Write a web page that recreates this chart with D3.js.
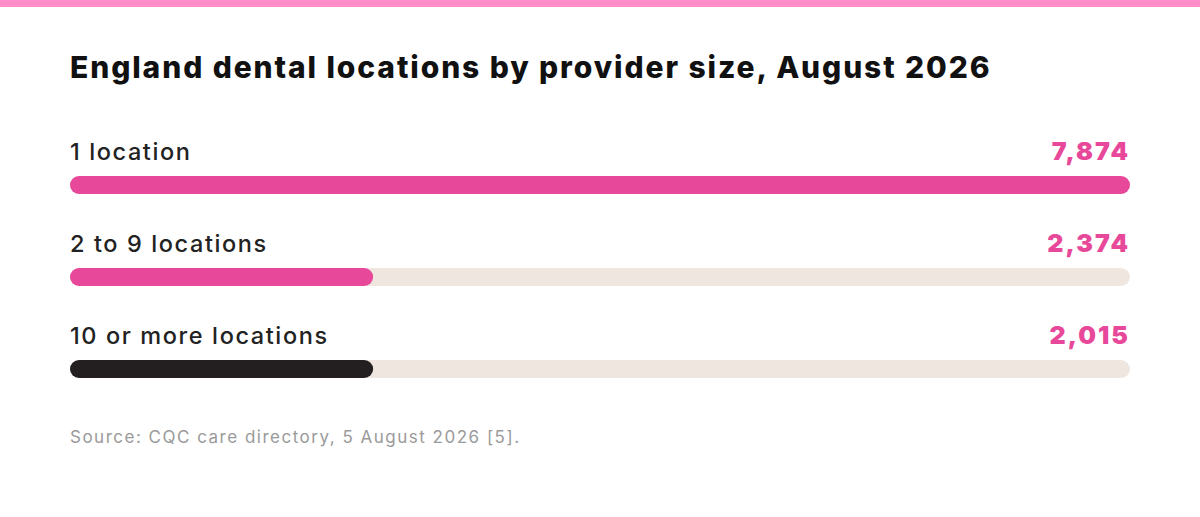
<!DOCTYPE html>
<meta charset="utf-8">
<script src="https://d3js.org/d3.v7.min.js"></script>
<style>
body { margin:0; background:#fff; font-family: Inter, "Noto Sans", sans-serif; }
</style>
<div id="chart"></div>
<script>
// values
const categories = ['1 location', '2 to 9 locations', '10 or more locations'];
const counts = [7874, 2374, 2015];
// filled share of each track, as drawn in the reference
const fillShare = [1, 0.286, 0.286];
const barColors = ['#e8489a', '#e8489a', '#231f20'];

const width = 1200, height = 517;
const left = 70, right = 1130;

const svg = d3.select('#chart').append('svg')
	.attr('width', width).attr('height', height);

svg.append('rect').attr('width', width).attr('height', 7).attr('fill', '#ff8dc7');

svg.append('text')
	.attr('x', left).attr('y', 78)
	.attr('font-size', 30).attr('font-weight', 800).attr('fill', '#111')
	.attr('letter-spacing', 1.9)
	.text('England dental locations by provider size, August 2026');

const x = d3.scaleLinear().domain([0, 1]).range([left, right]);
const y = d3.scaleBand().domain(categories).range([134, 410]);
const barH = 18;

const row = svg.selectAll('g.row').data(categories).join('g')
	.attr('transform', d => `translate(0,${y(d)})`);

row.append('text')
	.attr('x', left).attr('y', 26)
	.attr('font-size', 23.5).attr('font-weight', 500).attr('fill', '#222')
	.attr('letter-spacing', 1.6)
	.text(d => d);

row.append('text')
	.attr('x', right).attr('y', 26).attr('text-anchor', 'end')
	.attr('font-size', 25).attr('font-weight', 900).attr('fill', '#e8489a')
	.attr('letter-spacing', 2)
	.text((d, i) => d3.format(',')(counts[i]));

row.append('rect')
	.attr('x', x(0)).attr('y', 42).attr('height', barH)
	.attr('width', x(1) - x(0)).attr('rx', barH / 2)
	.attr('fill', '#efe6e0');

row.append('rect')
	.attr('x', x(0)).attr('y', 42).attr('height', barH)
	.attr('width', (d, i) => x(fillShare[i]) - x(0)).attr('rx', barH / 2)
	.attr('fill', (d, i) => barColors[i]);

svg.append('text')
	.attr('x', left).attr('y', 443)
	.attr('font-size', 17).attr('fill', '#9a9a9a')
	.attr('letter-spacing', 1.5)
	.text('Source: CQC care directory, 5 August 2026 [5].');
</script>
